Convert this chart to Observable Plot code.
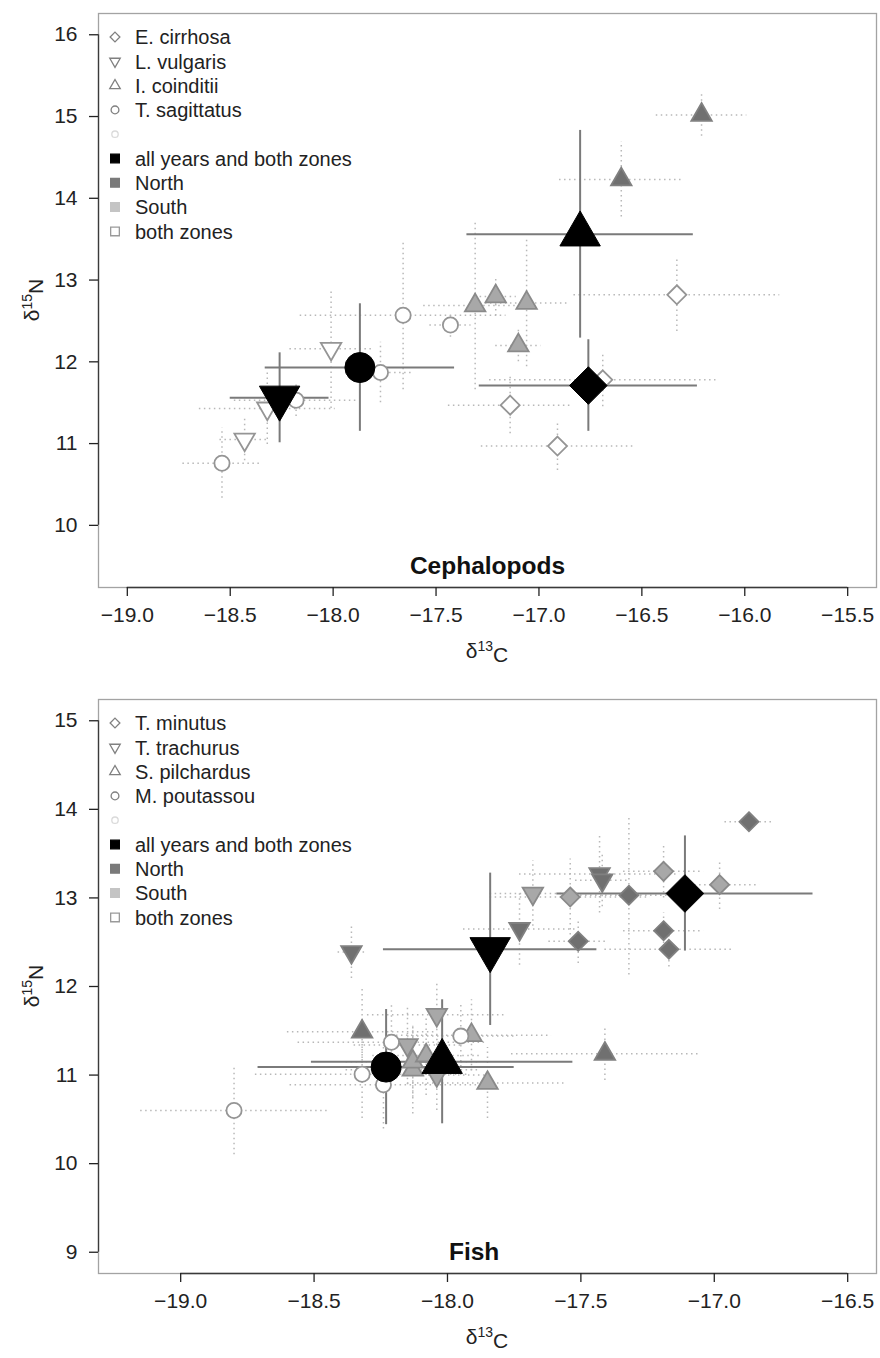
<!DOCTYPE html>
<html><head><meta charset="utf-8">
<script src="https://cdn.jsdelivr.net/npm/d3@7"></script>
<script src="https://cdn.jsdelivr.net/npm/@observablehq/plot@0.6"></script>
<style>
body{margin:0;background:#fff;}
#chart{width:880px;}
#chart svg{display:block;}
</style></head><body><div id="chart"></div>
<script>
const FONT = "'Liberation Sans', Arial, Helvetica, sans-serif";

// ---------- Cephalopods ----------
const cephNames = ["E. cirrhosa", "L. vulgaris", "I. coinditii", "T. sagittatus"];
const cephSpecies = [0,0,0,0,0, 1,1,1,1, 2,2,2,2,2,2,2, 3,3,3,3,3,3];
const cephZone = ["B","B","B","B","A", "B","B","B","A", "N","N","S","S","S","S","A", "B","B","B","B","B","A"];
const cephC13 = [-16.33,-16.69,-17.14,-16.91,-16.76, -18.43,-18.32,-18.01,-18.26, -16.21,-16.60,-17.31,-17.21,-17.06,-17.10,-16.80, -18.54,-18.18,-17.77,-17.66,-17.43,-17.87];
const cephN15 = [12.82,11.78,11.47,10.97,11.71, 11.05,11.43,12.16,11.56, 15.02,14.23,12.69,12.80,12.72,12.20,13.56, 10.76,11.53,11.87,12.57,12.45,11.93];
const cephSdC = [0.50,0.55,0.30,0.37,0.53, 0.12,0.33,0.20,0.24, 0.22,0.30,0.25,0.10,0.20,0.11,0.55, 0.19,0.30,0.15,0.50,0.10,0.46];
const cephSdN = [0.45,0.33,0.35,0.30,0.56, 0.26,0.44,0.73,0.55, 0.26,0.46,1.03,0.24,0.78,0.20,1.27, 0.43,0.20,0.37,0.91,0.15,0.78];
const cephXTicks = [-19.0,-18.5,-18.0,-17.5,-17.0,-16.5,-16.0,-15.5];
const cephYTicks = [10,11,12,13,14,15,16];

// ---------- Fish ----------
const fishNames = ["T. minutus", "T. trachurus", "S. pilchardus", "M. poutassou"];
const fishSpecies = [0,0,0,0,0,0,0,0,0, 1,1,1,1,1,1,1,1,1, 2,2,2,2,2,2,2,2, 3,3,3,3,3,3];
const fishZone = ["N","S","S","S","N","N","N","N","A", "N","N","S","N","N","S","S","S","A", "N","N","S","S","S","S","S","A", "B","B","B","B","B","A"];
const fishC13 = [-16.87,-17.19,-16.98,-17.54,-17.32,-17.19,-17.51,-17.17,-17.11, -17.43,-17.42,-17.68,-17.73,-18.36,-18.04,-18.15,-18.04,-17.84, -18.32,-17.41,-17.91,-18.13,-18.13,-18.08,-17.85,-18.02, -18.21,-17.95,-18.32,-18.24,-18.80,-18.23];
const fishN15 = [13.86,13.30,13.15,13.01,13.03,12.63,12.51,12.42,13.05, 13.27,13.20,13.05,12.65,12.39,11.68,11.34,11.00,12.42, 11.49,11.24,11.45,11.06,11.15,11.22,10.91,11.15, 11.37,11.44,11.01,10.89,10.60,11.09];
const fishSdC = [0.09,0.15,0.15,0.30,0.20,0.15,0.11,0.24,0.48, 0.30,0.10,0.16,0.21,0.05,0.26,0.20,0.20,0.40, 0.28,0.35,0.30,0.25,0.25,0.20,0.30,0.49, 0.35,0.20,0.40,0.35,0.35,0.48];
const fishSdN = [0.08,0.30,0.28,0.43,0.90,0.20,0.25,0.20,0.65, 0.44,0.30,0.37,0.41,0.30,0.35,0.45,0.40,0.86, 0.50,0.30,0.40,0.50,0.40,0.45,0.40,0.70, 0.45,0.35,0.50,0.50,0.50,0.65];
const fishXTicks = [-19.0,-18.5,-18.0,-17.5,-17.0,-16.5];
const fishYTicks = [9,10,11,12,13,14,15];

const zoneLegend = ["all years and both zones", "North", "South", "both zones"];

// ---------- R-like plotting symbols (pch 21-25) ----------
const rad = s => Math.sqrt(s / Math.PI);
const symCircle = {draw(c, s){ const R = rad(s); c.moveTo(R, 0); c.arc(0, 0, R, 0, 2*Math.PI); c.closePath(); }};
const symDiamond = {draw(c, s){ const a = 1.2533*rad(s); c.moveTo(0,-a); c.lineTo(a,0); c.lineTo(0,a); c.lineTo(-a,0); c.closePath(); }};
const symUp = {draw(c, s){ const R = rad(s); c.moveTo(0,-1.555*R); c.lineTo(1.347*R,0.778*R); c.lineTo(-1.347*R,0.778*R); c.closePath(); }};
const symDown = {draw(c, s){ const R = rad(s); c.moveTo(0,1.555*R); c.lineTo(1.347*R,-0.778*R); c.lineTo(-1.347*R,-0.778*R); c.closePath(); }};
const symSquare = {draw(c, s){ const a = 0.8862*rad(s); c.rect(-a,-a,2*a,2*a); }};
const shapes = [symDiamond, symDown, symUp, symCircle];

const zoneFill = {N: "#707070", S: "#a8a8a8", B: "#ffffff", A: "#000000"};
const zoneStroke = {N: "#808080", S: "#8a8a8a", B: "#959595", A: "#000000"};

function rows(sp, zone, x, y, sx, sy) {
  return sp.map((s, i) => ({sp: s, zone: zone[i], x: x[i], y: y[i], sx: sx[i], sy: sy[i]}));
}

function panel(o) {
  const data = rows(o.sp, o.zone, o.x, o.y, o.sx, o.sy);
  const small = data.filter(d => d.zone !== "A");
  const big = data.filter(d => d.zone === "A");
  const W = 880, ML = 98, MR = 4;
  const svg = Plot.plot({
    width: W, height: o.height,
    marginLeft: ML, marginRight: MR, marginTop: o.mt, marginBottom: o.mb,
    style: {fontFamily: FONT, fontSize: "21px", color: "#222", background: "white", overflow: "visible"},
    x: {domain: o.xDomain},
    y: {domain: o.yDomain},
    color: {type: "identity"},
    marks: [
      Plot.frame({stroke: "#a3a3a3", strokeWidth: 1.3}),
      Plot.ruleY([o.yDomain[0]], {x1: o.xTicks[0], x2: o.xTicks[o.xTicks.length-1], stroke: "#3a3a3a", strokeWidth: 1.3}),
      Plot.ruleX([o.xDomain[0]], {y1: o.yTicks[0], y2: o.yTicks[o.yTicks.length-1], stroke: "#3a3a3a", strokeWidth: 1.3}),
      Plot.axisX({ticks: o.xTicks, tickSize: 9, tickPadding: 11, tickFormat: d3.format(".1f"), label: null, strokeWidth: 1.3}),
      Plot.axisY({ticks: o.yTicks, tickSize: 9, tickPadding: 12, tickFormat: d3.format("d"), label: null, strokeWidth: 1.3}),
      Plot.ruleY(small, {y: "y", x1: d => d.x - d.sx, x2: d => d.x + d.sx, stroke: "#b8b8b8", strokeWidth: 1.5, strokeDasharray: "1.5,3.5"}),
      Plot.ruleX(small, {x: "x", y1: d => d.y - d.sy, y2: d => d.y + d.sy, stroke: "#b8b8b8", strokeWidth: 1.5, strokeDasharray: "1.5,3.5"}),
      Plot.ruleY(big, {y: "y", x1: d => d.x - d.sx, x2: d => d.x + d.sx, stroke: "#7a7a7a", strokeWidth: 2}),
      Plot.ruleX(big, {x: "x", y1: d => d.y - d.sy, y2: d => d.y + d.sy, stroke: "#7a7a7a", strokeWidth: 2}),
      ...shapes.map((sh, i) => Plot.dot(small.filter(d => d.sp === i), {x: "x", y: "y", symbol: sh, r: 7.6, fill: d => zoneFill[d.zone], stroke: d => zoneStroke[d.zone], strokeWidth: 1.8})),
      ...shapes.map((sh, i) => Plot.dot(big.filter(d => d.sp === i), {x: "x", y: "y", symbol: sh, r: 15, fill: "#000", stroke: "#000", strokeWidth: 1})),
      Plot.text([o.label], {x: o.labelX, y: o.labelY, text: d => d, fontWeight: "bold", fontSize: 24.5, fill: "#111"})
    ]
  });
  const s = d3.select(svg);
  // legend
  const items = [
    ...o.names.map((n, i) => ({shape: shapes[i], r: 3.9, fill: "#fff", stroke: "#808080", text: n})),
    {shape: symCircle, r: 3.2, fill: "#fff", stroke: "#dadada", text: ""},
    {shape: symSquare, r: 4.9, fill: "#000", stroke: "#000", text: zoneLegend[0]},
    {shape: symSquare, r: 4.9, fill: "#7a7a7a", stroke: "#7a7a7a", text: zoneLegend[1]},
    {shape: symSquare, r: 4.9, fill: "#c4c4c4", stroke: "#c4c4c4", text: zoneLegend[2]},
    {shape: symSquare, r: 4.9, fill: "#fff", stroke: "#9a9a9a", text: zoneLegend[3]}
  ];
  const g = s.append("g").attr("font-family", FONT).attr("font-size", 20).attr("fill", "#222").attr("text-anchor", "start");
  items.forEach((it, i) => {
    const y = o.mt + 24 + i * 24.3;
    g.append("path").attr("transform", `translate(${ML + 17},${y})`)
      .attr("d", d3.symbol(it.shape, Math.PI * it.r * it.r)())
      .attr("fill", it.fill).attr("stroke", it.stroke).attr("stroke-width", 1.3);
    if (it.text) g.append("text").attr("x", ML + 37).attr("y", y).attr("dy", "0.36em").attr("text-anchor", "start").text(it.text);
  });
  // axis titles
  const cx = (ML + W - MR) / 2;
  const xt = s.append("text").attr("x", cx).attr("y", o.xTitleY).attr("text-anchor", "middle")
    .attr("font-family", FONT).attr("font-size", 21).attr("fill", "#222");
  xt.append("tspan").text("δ");
  xt.append("tspan").attr("dy", "-0.5em").attr("font-size", 14).text("13");
  xt.append("tspan").attr("dy", "0.5em").text("C");
  const cy = (o.mt + o.height - o.mb) / 2;
  const yt = s.append("text").attr("transform", `translate(${o.yTitleX},${cy}) rotate(-90)`).attr("text-anchor", "middle")
    .attr("font-family", FONT).attr("font-size", 21).attr("fill", "#222");
  yt.append("tspan").text("δ");
  yt.append("tspan").attr("dy", "-0.5em").attr("font-size", 14).text("15");
  yt.append("tspan").attr("dy", "0.5em").text("N");
  return svg;
}

const chart = document.getElementById("chart");
chart.append(panel({
  sp: cephSpecies, zone: cephZone, x: cephC13, y: cephN15, sx: cephSdC, sy: cephSdN,
  names: cephNames, xDomain: [-19.14, -15.36], yDomain: [9.24, 16.26],
  xTicks: cephXTicks, yTicks: cephYTicks, height: 670, mt: 13, mb: 83,
  label: "Cephalopods", labelX: -17.25, labelY: 9.5, xTitleY: 658, yTitleX: 39
}));
chart.append(panel({
  sp: fishSpecies, zone: fishZone, x: fishC13, y: fishN15, sx: fishSdC, sy: fishSdN,
  names: fishNames, xDomain: [-19.308, -16.392], yDomain: [8.76, 15.24],
  xTicks: fishXTicks, yTicks: fishYTicks, height: 688, mt: 29, mb: 85,
  label: "Fish", labelX: -17.9, labelY: 9.0, xTitleY: 674, yTitleX: 39
}));
</script></body></html>
